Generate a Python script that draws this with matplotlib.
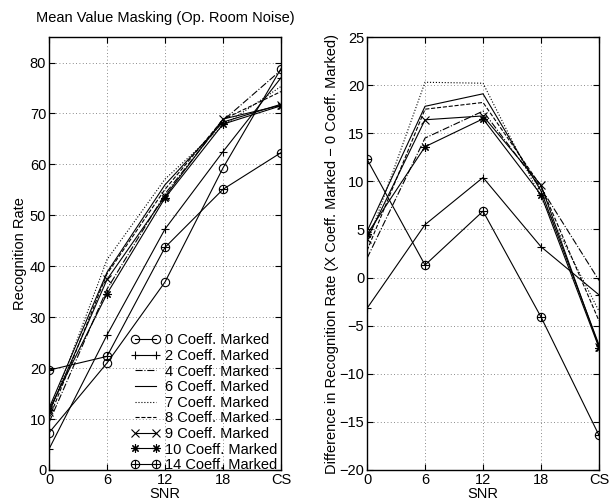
import matplotlib
matplotlib.use('Agg')
import matplotlib.pyplot as plt
from matplotlib.path import Path

plt.rcParams['font.family'] = ['Liberation Sans', 'DejaVu Sans']

# SNR 位置，最后一个是 CS（干净语音）
snr_pos = [0, 6, 12, 18, 24]
snr_labels = ['0', '6', '12', '18', 'CS']

# 识别率（左图）
rate_0 = [7.3, 21.0, 36.9, 59.3, 78.8]
rate_2 = [4.1, 26.5, 47.3, 62.5, 77.0]
rate_4 = [9.3, 35.5, 54.2, 68.6, 78.5]
rate_6 = [12.1, 38.8, 56.0, 68.3, 71.8]
rate_7 = [10.8, 41.3, 57.1, 67.6, 75.3]
rate_8 = [10.1, 38.5, 55.1, 68.8, 74.3]
rate_9 = [11.3, 37.4, 53.7, 68.9, 71.6]
rate_10 = [11.8, 34.6, 53.4, 67.9, 71.5]
rate_14 = [19.6, 22.3, 43.7, 55.1, 62.3]

# 与 0 个系数相比的识别率差（右图）
diff_2 = [-3.2, 5.5, 10.4, 3.2, -1.8]
diff_4 = [2.0, 14.5, 17.3, 9.3, -0.3]
diff_6 = [4.8, 17.8, 19.1, 9.0, -7.0]
diff_7 = [3.5, 20.3, 20.2, 8.3, -3.5]
diff_8 = [2.8, 17.5, 18.2, 9.5, -4.5]
diff_9 = [4.0, 16.4, 16.8, 9.6, -7.2]
diff_10 = [4.5, 13.6, 16.5, 8.6, -7.3]
diff_14 = [12.3, 1.3, 6.9, -4.1, -16.4]

labels = ['0 Coeff. Marked', '2 Coeff. Marked', '4 Coeff. Marked',
          '6 Coeff. Marked', '7 Coeff. Marked', '8 Coeff. Marked',
          '9 Coeff. Marked', '10 Coeff. Marked', '14 Coeff. Marked']

lw = 0.8
ms = 6
fs = 10.5
asterisk = (8, 2, 0)
# 圆圈加十字的标记 (⊕)
_cross = Path([[-1, 0], [1, 0], [0, -1], [0, 1]],
              [Path.MOVETO, Path.LINETO, Path.MOVETO, Path.LINETO])
circle_plus = Path.make_compound_path(Path.unit_circle(), _cross)


def style_axes(ax, ylim, yticks):
    ax.set_xlim(0, 24)
    ax.set_ylim(*ylim)
    ax.set_xticks(snr_pos)
    ax.set_xticklabels(snr_labels)
    ax.set_yticks(yticks)
    ax.tick_params(direction='in', top=True, right=True, length=4,
                   width=0.8, labelsize=fs, pad=2)
    ax.grid(True, linestyle=(0, (1, 3)), color='#666666', linewidth=0.6)
    for s in ax.spines.values():
        s.set_linewidth(1.0)
    ax.set_xlabel('SNR', fontsize=fs, labelpad=0)


def draw_series(ax, ys, with_zero=None):
    handles = []
    if with_zero is not None:
        h, = ax.plot(snr_pos, with_zero, 'k-', marker='o', mfc='none',
                     ms=ms, lw=lw, mew=0.8)
        handles.append(h)
    specs = [('-', '+'), ('-.', None), ('-', None), (':', None),
             ('--', None), ('-', 'x'), ('-', asterisk), ('-', circle_plus)]
    for y, (ls, mk) in zip(ys, specs):
        h, = ax.plot(snr_pos, y, color='k', ls=ls, marker=mk, mfc='none',
                     ms=ms, lw=lw, mew=0.8)
        handles.append(h)
    return handles


fig = plt.figure(figsize=(6.11, 5.04), dpi=100)
ax1 = fig.add_axes([0.0802, 0.0675, 0.3797, 0.859])
ax2 = fig.add_axes([0.6007, 0.0675, 0.3797, 0.859])

# 左图：识别率
h1 = draw_series(ax1, [rate_2, rate_4, rate_6, rate_7, rate_8,
                       rate_9, rate_10, rate_14], with_zero=rate_0)
style_axes(ax1, (0, 85), range(0, 81, 10))
ax1.set_ylabel('Recognition Rate', fontsize=fs, labelpad=2)
ax1.set_title('Mean Value Masking (Op. Room Noise)', fontsize=fs, pad=11)
ax1.legend(h1, labels, loc='lower right', bbox_to_anchor=(0.985, -0.005),
           frameon=False, fontsize=fs, numpoints=2, handlelength=2.0,
           handletextpad=0.35, labelspacing=0.11, borderpad=0,
           borderaxespad=0)

# 右图：识别率差
draw_series(ax2, [diff_2, diff_4, diff_6, diff_7, diff_8,
                  diff_9, diff_10, diff_14])
style_axes(ax2, (-20, 25), range(-20, 26, 5))
ax2.set_ylabel('Difference in Recognition Rate (X Coeff. Marked \u2212 0 Coeff. Marked)',
               fontsize=fs, labelpad=0)

fig.savefig('out.png', dpi=100)
